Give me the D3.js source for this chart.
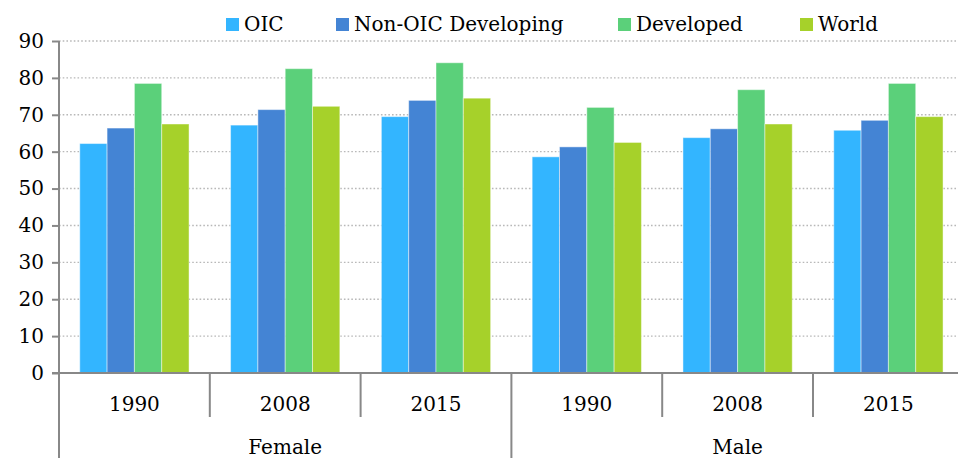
<!DOCTYPE html>
<html><head><meta charset="utf-8">
<script src="https://cdn.jsdelivr.net/npm/d3@7"></script>
<style>body{margin:0;background:#fff}svg{display:block}text{font-family:"DejaVu Serif",serif;fill:#000}</style>
</head><body>
<svg id="c" width="958" height="458"></svg>
<script>
const series = ["OIC","Non-OIC Developing","Developed","World"];
const genders = ["Female","Male"];
const years = ["1990","2008","2015"];
const oic       = [62.2, 67.2, 69.5, 58.6, 63.8, 65.8];
const nonOic    = [66.4, 71.4, 73.9, 61.3, 66.2, 68.5];
const developed = [78.5, 82.5, 84.1, 72.0, 76.8, 78.5];
const world     = [67.5, 72.3, 74.5, 62.5, 67.5, 69.5];
const yTicks = [0,10,20,30,40,50,60,70,80,90];
const colors = ["#33B5FF","#4484D4","#5BD07A","#A6D12A"];

const values = [oic, nonOic, developed, world];
const groups = [];
genders.forEach(g => years.forEach(y => groups.push(g + "|" + y)));

const svg = d3.select("#c");
const x0 = 59, groupW = 150.8;
const x = d3.scaleBand().domain(groups).range([x0, x0 + groupW * groups.length]).padding(0);
const xi = d3.scaleBand().domain(series).range([0, x.bandwidth()]).paddingInner(0).paddingOuter(0.76);
const y = d3.scaleLinear().domain([0, 90]).range([373, 41]);

// gridlines
svg.append("g").selectAll("line").data(yTicks.filter(t => t > 0)).join("line")
  .attr("x1", x0).attr("x2", 958).attr("y1", d => y(d)).attr("y2", d => y(d))
  .attr("stroke", "#b8b8b8").attr("stroke-width", 1.4).attr("stroke-dasharray", "1.6,2.1");

// bars
const gBars = svg.append("g");
series.forEach((s, si) => {
  gBars.append("g").selectAll("rect").data(values[si]).join("rect")
    .attr("x", (d, i) => x(groups[i]) + xi(s))
    .attr("width", xi.bandwidth())
    .attr("y", d => y(d))
    .attr("height", d => y(0) - y(d))
    .attr("fill", colors[si])
    .attr("stroke", "rgba(255,255,255,0.45)").attr("stroke-width", 1);
});

// y axis
const yAxis = d3.axisLeft(y).tickValues(yTicks).tickSize(7).tickPadding(6);
const ya = svg.append("g").attr("transform", `translate(${x0},0)`).call(yAxis);
ya.select(".domain").remove();
ya.selectAll(".tick line").attr("stroke", "#888").attr("stroke-width", 2);
ya.selectAll(".tick text").attr("font-size", 20).attr("font-family", "DejaVu Serif").attr("fill", "#000").attr("dx", "-2");
svg.append("line").attr("x1", x0).attr("x2", x0).attr("y1", y(90)).attr("y2", 458)
  .attr("stroke", "#888").attr("stroke-width", 2);

// x axis line
svg.append("line").attr("x1", x0 - 7).attr("x2", 958).attr("y1", y(0)).attr("y2", y(0))
  .attr("stroke", "#888").attr("stroke-width", 2);

// year separators and labels
const gx = svg.append("g");
groups.forEach((g, i) => {
  const left = x(g);
  if (i > 0) {
    const full = (i % years.length === 0);
    gx.append("line").attr("x1", left).attr("x2", left).attr("y1", y(0)).attr("y2", full ? 458 : 417)
      .attr("stroke", "#888").attr("stroke-width", 2);
  }
  gx.append("text").attr("x", left + x.bandwidth() / 2).attr("y", 411)
    .attr("text-anchor", "middle").attr("font-size", 20).text(g.split("|")[1]);
});
genders.forEach((gd, gi) => {
  const first = x(gd + "|" + years[0]);
  const last = x(gd + "|" + years[years.length - 1]) + x.bandwidth();
  gx.append("text").attr("x", (first + last) / 2).attr("y", 454)
    .attr("text-anchor", "middle").attr("font-size", 20).text(gd);
});

// legend
const legX = [226, 336, 618, 800];
const leg = svg.append("g");
series.forEach((s, si) => {
  leg.append("rect").attr("x", legX[si]).attr("y", 18).attr("width", 13).attr("height", 13).attr("fill", colors[si]);
  leg.append("text").attr("x", legX[si] + 18).attr("y", 31).attr("font-size", 20).text(s);
});
</script>
</body></html>
